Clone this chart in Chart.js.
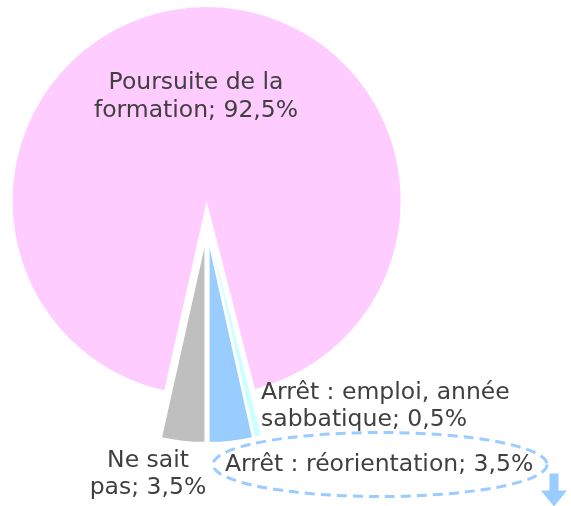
<!DOCTYPE html>
<html>
<head>
<meta charset="utf-8">
<script src="https://cdn.jsdelivr.net/npm/chart.js@4/dist/chart.umd.min.js"></script>
<style>
  html, body { margin: 0; padding: 0; background: #ffffff; }
  #wrap { position: relative; width: 571px; height: 506px; }
</style>
</head>
<body>
<div id="wrap"><canvas id="c"></canvas></div>
<script>
// ---- data ----
const categories = [
  "Poursuite de la formation",
  "Arrêt : emploi, année sabbatique",
  "Arrêt : réorientation",
  "Ne sait pas"
];
const values = [92.5, 0.5, 3.5, 3.5];
const labelLines = [
  ["Poursuite de la", "formation; 92,5%"],
  ["Arrêt : emploi, année", "sabbatique; 0,5%"],
  ["Arrêt : réorientation; 3,5%"],
  ["Ne sait", "pas; 3,5%"]
];
const colors = ["#ffccff", "#ccffff", "#99ccff", "#bfbfbf"];

// ---- styling ----
const FONT = '400 23.5px "DejaVu Sans", sans-serif';
const TEXT_COLOR = "#404040";
const EXPLODE = 23.5;          // slice explosion along each slice's bisector (px)
// label anchors relative to the pie centre: [dx, dy, align, lineHeight]
const labelAnchors = [
  [-11, -142, "center", 28],
  [54, 168, "left", 27],
  [18, 240, "left", 27],
  [-59, 236, "center", 27]
];

const explodePlugin = {
  id: "explode",
  afterDatasetUpdate(chart, args) {
    const meta = chart.getDatasetMeta(args.index);
    meta.data.forEach(arc => {
      const mid = (arc.startAngle + arc.endAngle) / 2;
      arc.x += Math.cos(mid) * EXPLODE;
      arc.y += Math.sin(mid) * EXPLODE;
    });
  }
};

const labelPlugin = {
  id: "sliceLabels",
  afterDraw(chart) {
    const ctx = chart.ctx;
    const ca = chart.chartArea;
    const cx = (ca.left + ca.right) / 2;
    const cy = (ca.top + ca.bottom) / 2;
    ctx.save();
    ctx.font = FONT;
    ctx.fillStyle = TEXT_COLOR;
    ctx.textBaseline = "middle";
    labelLines.forEach((lines, i) => {
      const [dx, dy, align, lh] = labelAnchors[i];
      ctx.textAlign = align;
      lines.forEach((t, j) => ctx.fillText(t, cx + dx, cy + dy + j * lh));
    });

    // dashed highlight ellipse around the "réorientation" label
    const ex = cx + 173, ey = cy + 240;
    ctx.strokeStyle = "#99ccff";
    ctx.lineWidth = 3;
    ctx.setLineDash([10, 6]);
    ctx.beginPath();
    ctx.ellipse(ex, ey, 167, 32, 0, 0, Math.PI * 2);
    ctx.stroke();
    ctx.setLineDash([]);

    // down arrow
    const ax = cx + 347, ay = cy + 249;
    ctx.fillStyle = "#99ccff";
    ctx.beginPath();
    ctx.moveTo(ax - 4.5, ay);
    ctx.lineTo(ax + 4.5, ay);
    ctx.lineTo(ax + 4.5, ay + 17);
    ctx.lineTo(ax + 13, ay + 17);
    ctx.lineTo(ax, ay + 33);
    ctx.lineTo(ax - 13, ay + 17);
    ctx.lineTo(ax - 4.5, ay + 17);
    ctx.closePath();
    ctx.fill();
    ctx.restore();
  }
};

new Chart(document.getElementById("c"), {
  type: "pie",
  data: {
    labels: categories,
    datasets: [{
      data: values,
      backgroundColor: colors,
      borderWidth: 0,
      hoverOffset: 0
    }]
  },
  options: {
    responsive: true,
    maintainAspectRatio: false,
    animation: false,
    rotation: 192.6,
    radius: 194,
    layout: { padding: { left: 0, right: 157, top: 0, bottom: 57 } },
    plugins: {
      legend: { display: false },
      tooltip: { enabled: false }
    }
  },
  plugins: [explodePlugin, labelPlugin]
});
</script>
</body>
</html>
